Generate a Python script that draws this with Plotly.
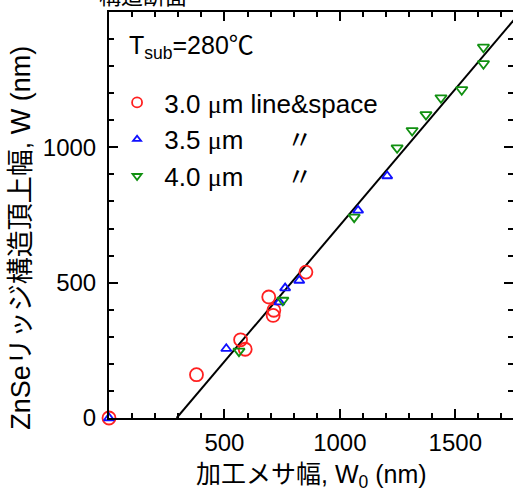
import plotly.graph_objects as go

# ---- data ----
w0_30 = [0, 379, 570, 590, 692, 711, 714, 853]
w_30 = [0, 160, 289, 254, 447, 379, 398, 539]

w0_35 = [0, 508, 738, 763, 824, 1079, 1205]
w_35 = [0, 256, 428, 480, 508, 767, 894]

w0_40 = [563, 753, 1062, 1248, 1313, 1373, 1438, 1528, 1622, 1622]
w_40 = [247, 435, 742, 998, 1062, 1121, 1183, 1213, 1309, 1370]

fit_x = [293, 1760]
fit_y = [0, 1477]

MU = "<span style=\"font-family:'Liberation Serif', serif\">μ</span>"
NB = "\u00a0"
names = [NB + "3.0 " + MU + "m line&amp;space",
         NB + "3.5 " + MU + "m" + NB * 6 + "〃",
         NB + "4.0 " + MU + "m" + NB * 6 + "〃"]

x_ticks = [500, 1000, 1500]
y_ticks = [0, 500, 1000]

FONT = "Liberation Sans, Arial, Noto Sans CJK JP, sans-serif"
W, H = 516, 491
L, R, T, B = 109, 1, 12, 73
PW = W - L - R

fig = go.Figure()
fig.add_trace(go.Scatter(x=fit_x, y=fit_y, mode="lines",
                         line=dict(color="black", width=2),
                         showlegend=False, hoverinfo="skip"))

specs = [
    (w0_30, w_30, "circle-open", "#ff2020", 13, 10),
    (w0_35, w_35, "triangle-up-open", "#1010ff", 9, 7),
    (w0_40, w_40, "triangle-down-open", "#119011", 10, 8),
]
for i, ((xs, ys, sym, col, sz, lsz), nm) in enumerate(zip(specs, names)):
    fig.add_trace(go.Scatter(x=xs, y=ys, mode="markers", cliponaxis=False,
                             marker=dict(symbol=sym, size=sz, color=col,
                                         line=dict(color=col, width=1.8)),
                             showlegend=False))
    fig.add_trace(go.Scatter(x=[None], y=[None], mode="markers", name=nm,
                             legendgroup="g%d" % i,
                             marker=dict(symbol=sym, size=lsz, color=col,
                                         line=dict(color=col, width=1.8))))

axis_common = dict(showline=True, linecolor="black", linewidth=2, mirror="ticks",
                   ticks="inside", ticklen=9, tickwidth=1.5, tickcolor="black",
                   showgrid=False, zeroline=False,
                   tickfont=dict(family=FONT, size=24, color="black"))

fig.update_xaxes(range=[0, PW / 0.232], tickvals=x_ticks,
                 minor=dict(dtick=100, tick0=0, ticks="inside", ticklen=5,
                            tickwidth=1.5, tickcolor="black", showgrid=False),
                 ticklabelstandoff=2, **axis_common)
fig.update_yaxes(range=[0, 1500], tickvals=y_ticks,
                 minor=dict(dtick=100, tick0=0, ticks="inside", ticklen=5,
                            tickwidth=1.5, tickcolor="black", showgrid=False),
                 ticklabelstandoff=6, **axis_common)

fig.update_layout(
    width=W, height=H,
    margin=dict(l=L, r=R, t=T, b=B, pad=0),
    paper_bgcolor="white", plot_bgcolor="white",
    font=dict(family=FONT, size=24, color="black"),
    legend=dict(x=0.02, y=0.835, xanchor="left", yanchor="top",
                bgcolor="rgba(0,0,0,0)", font=dict(family=FONT, size=26),
                tracegroupgap=0, itemsizing="trace"),
    annotations=[
        dict(text="T<sub>sub</sub>=280℃", xref="paper", yref="paper",
             x=(127 - L) / PW, y=(417.7 - 47) / 406, xanchor="left", yanchor="middle",
             showarrow=False, font=dict(family=FONT, size=25)),
        dict(text="加工メサ幅, W<sub>0</sub> (nm)", xref="paper", yref="paper",
             x=(312.5 - L) / PW, y=(417.7 - 476) / 406,
             xanchor="center", yanchor="middle", showarrow=False,
             font=dict(family=FONT, size=25)),
        dict(text="ZnSeリッジ構造頂上幅, W (nm)", xref="paper", yref="paper",
             x=(21 - L) / PW, y=(417.7 - 237) / 406, textangle=-90,
             xanchor="center", yanchor="middle", showarrow=False,
             font=dict(family=FONT, size=27)),
        dict(text="構造断面", xref="paper", yref="paper",
             x=(143 - L) / PW, y=1.0, yshift=1,
             xanchor="center", yanchor="bottom", showarrow=False,
             font=dict(family=FONT, size=22)),
    ],
)

fig.write_html("out.html",
               config={"displayModeBar": False},
               post_script="document.body.style.margin='0px';"
                           "document.body.style.overflow='hidden';"
                           "document.documentElement.style.overflow='hidden';")
